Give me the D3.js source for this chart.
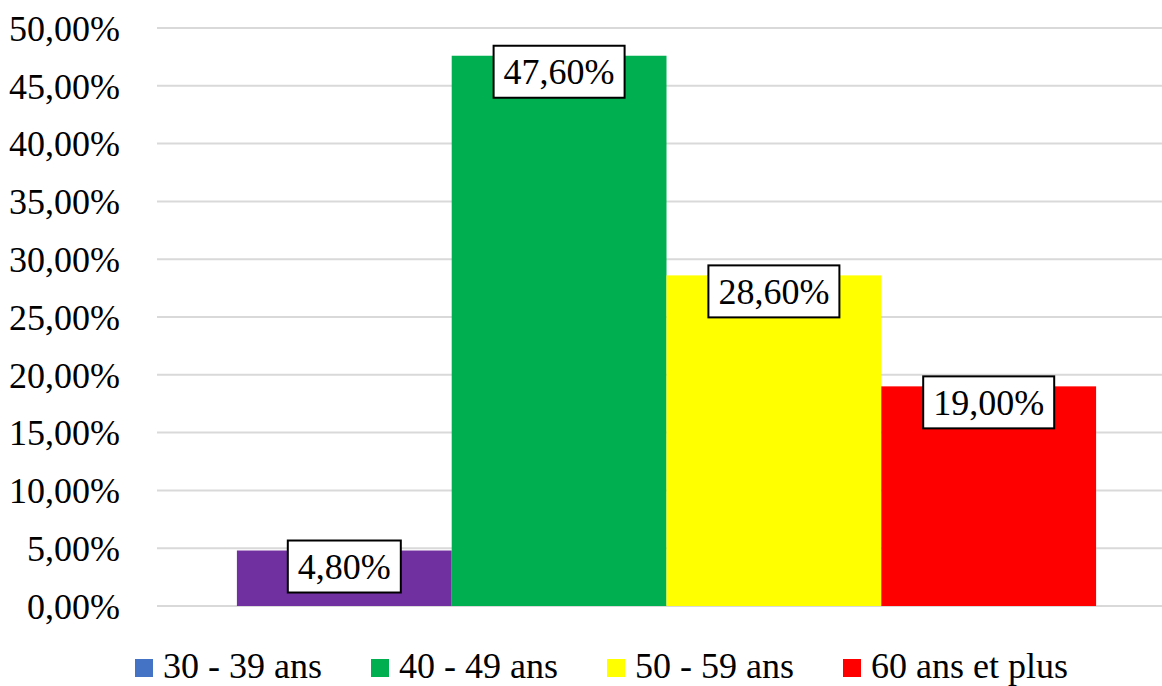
<!DOCTYPE html>
<html>
<head>
<meta charset="utf-8">
<script src="https://cdn.jsdelivr.net/npm/d3@7"></script>
<style>
  html, body { margin: 0; padding: 0; background: #fff; }
  svg { display: block; font-family: "Liberation Serif", "Times New Roman", serif; }
</style>
</head>
<body>
<svg id="chart" width="1162" height="686"></svg>
<script>
// Age groups and their shares
const series = ["30 - 39 ans", "40 - 49 ans", "50 - 59 ans", "60 ans et plus"];
const values = [0.048, 0.476, 0.286, 0.19];
const barColors = ["#7030A0", "#00B050", "#FFFF00", "#FF0000"];
const legendColors = ["#4472C4", "#00B050", "#FFFF00", "#FF0000"];
const categories = [""];
const yTicks = [0, 0.05, 0.10, 0.15, 0.20, 0.25, 0.30, 0.35, 0.40, 0.45, 0.50];

const svg = d3.select("#chart");
const fontSize = 36;

const plot = { left: 157, right: 1176, top: 28, bottom: 606 };

const fmt = v => (v * 100).toFixed(2).replace(".", ",") + "%";

const y = d3.scaleLinear().domain([0, 0.5]).range([plot.bottom, plot.top]);
const x0 = d3.scaleBand().domain(categories).range([plot.left, plot.right])
  .paddingInner(0).paddingOuter(0.093);
const x1 = d3.scaleBand().domain(series).range([0, x0.bandwidth()]).padding(0);

// Horizontal gridlines
svg.append("g")
  .selectAll("line")
  .data(yTicks)
  .join("line")
  .attr("x1", plot.left)
  .attr("x2", plot.right)
  .attr("y1", d => y(d))
  .attr("y2", d => y(d))
  .attr("stroke", "#d9d9d9")
  .attr("stroke-width", 2);

// Y axis labels
const yAxis = d3.axisLeft(y).tickValues(yTicks).tickFormat(fmt).tickSize(0).tickPadding(0);
const yg = svg.append("g").attr("transform", "translate(120,0)").call(yAxis);
yg.select(".domain").remove();
yg.selectAll("text")
  .attr("font-family", "Liberation Serif, Times New Roman, serif")
  .attr("font-size", fontSize)
  .attr("fill", "#000")
  .attr("dy", "0.34em");

// Bars
const g = svg.append("g").attr("transform", `translate(${x0(categories[0])},0)`);
g.selectAll("rect")
  .data(series)
  .join("rect")
  .attr("x", d => x1(d))
  .attr("width", x1.bandwidth())
  .attr("y", (d, i) => y(values[i]))
  .attr("height", (d, i) => y(0) - y(values[i]))
  .attr("fill", (d, i) => barColors[i]);

// Value labels in boxes near the top of each bar
const labels = g.selectAll("g.lbl")
  .data(series)
  .join("g")
  .attr("class", "lbl")
  .attr("transform", (d, i) => `translate(${x1(d) + x1.bandwidth() / 2},${y(values[i]) + 16})`);

labels.each(function (d, i) {
  const sel = d3.select(this);
  const rect = sel.append("rect");
  const t = sel.append("text")
    .attr("text-anchor", "middle")
    .attr("dy", "0.34em")
    .attr("font-size", fontSize)
    .attr("fill", "#000")
    .text(fmt(values[i]));
  const w = t.node().getComputedTextLength() + 20;
  const h = 52;
  rect.attr("x", -w / 2).attr("y", -h / 2).attr("width", w).attr("height", h)
    .attr("fill", "#fff").attr("stroke", "#000").attr("stroke-width", 2);
});

// Legend
const legend = svg.append("g").attr("transform", "translate(135,659)");
const item = legend.selectAll("g")
  .data(series)
  .join("g")
  .attr("transform", (d, i) => `translate(${i * 236},0)`);
item.append("rect")
  .attr("width", 18).attr("height", 18)
  .attr("fill", (d, i) => legendColors[i]);
item.append("text")
  .attr("x", 28)
  .attr("y", 19)
  .attr("font-size", fontSize)
  .attr("fill", "#000")
  .text(d => d);
</script>
</body>
</html>
